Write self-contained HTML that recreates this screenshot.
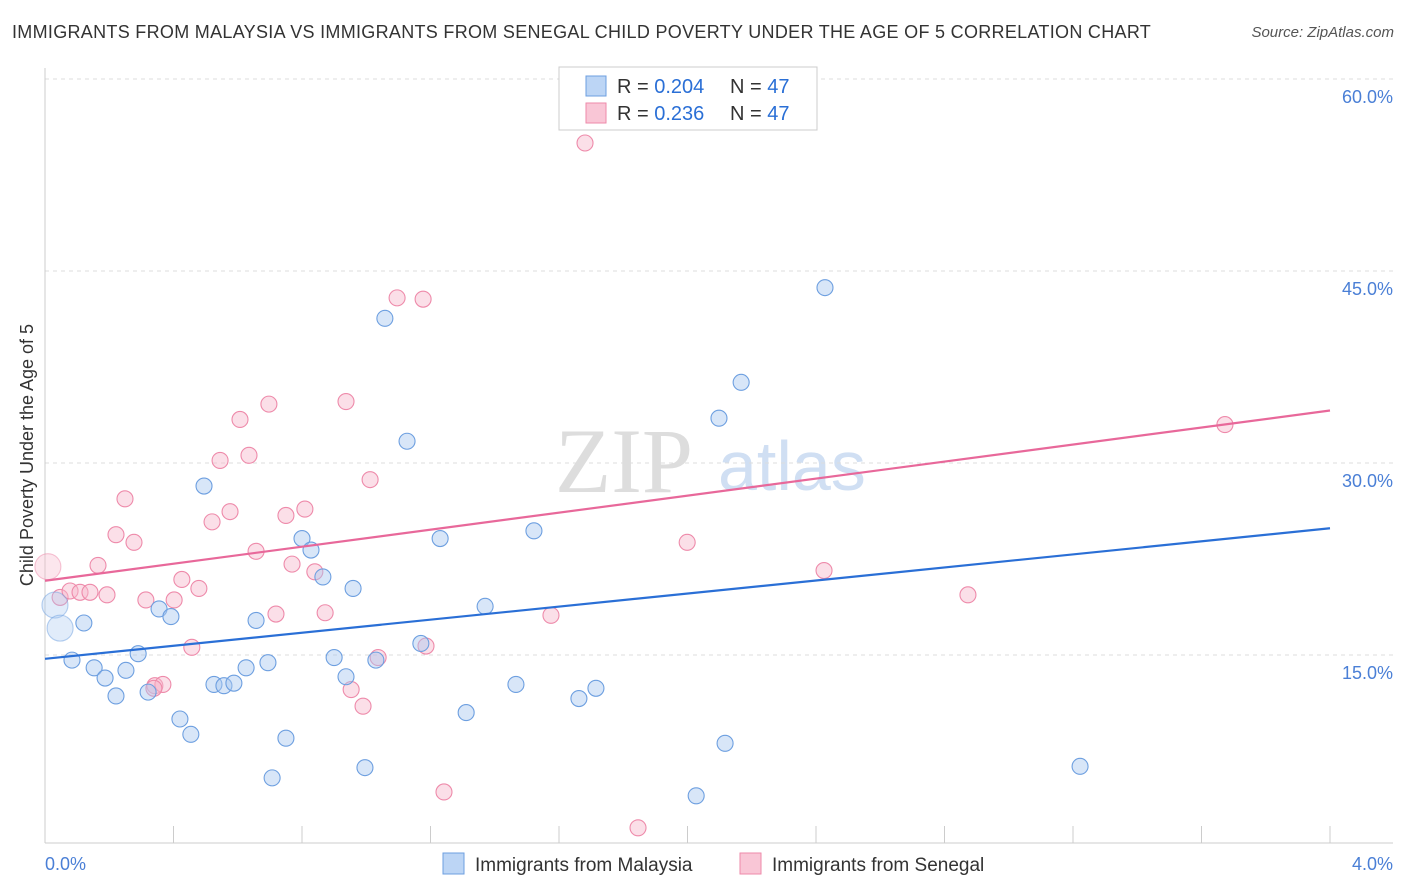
<!DOCTYPE html>
<html><head><meta charset="utf-8">
<style>
body{margin:0;background:#fff;font-family:"Liberation Sans",sans-serif;}
#wrap{position:relative;width:1406px;height:892px;overflow:hidden;}
.title{position:absolute;left:12px;top:22px;font-size:18px;letter-spacing:0.3px;color:#333;}
.src{position:absolute;right:12px;top:24px;font-size:15px;color:#555;font-style:italic;}
</style></head>
<body>
<div id="wrap">
<div class="title">IMMIGRANTS FROM MALAYSIA VS IMMIGRANTS FROM SENEGAL CHILD POVERTY UNDER THE AGE OF 5 CORRELATION CHART</div>
<div class="src">Source: ZipAtlas.com</div>
<svg id="svg" width="1406" height="892" style="position:absolute;left:0;top:0"></svg>
</div>
<script>
const blueX=[.031,.047,.121,.084,.153,.187,.221,.252,.290,.321,.355,.392,.420,.454,.495,.526,.557,.588,.626,.657,.694,.707,.750,.800,.828,.865,.900,.937,.959,.996,1.030,1.058,1.127,1.170,1.230,1.311,1.370,1.466,1.522,1.662,1.715,2.027,2.098,2.117,2.167,2.428,3.222];
const blueY=[18.9,17.1,17.5,14.6,14.0,13.2,11.8,13.8,15.1,12.1,18.6,18.0,10.0,8.8,28.2,12.7,12.6,12.8,14.0,17.7,14.4,5.4,8.5,24.1,23.2,21.1,14.8,13.3,20.2,6.2,14.6,41.3,31.7,15.9,24.1,10.5,18.8,12.7,24.7,11.6,12.4,4.0,33.5,8.1,36.3,43.7,6.3];
const pinkX=[.009,.047,.078,.109,.140,.165,.193,.221,.249,.277,.314,.342,.367,.402,.426,.457,.479,.520,.545,.576,.607,.635,.657,.697,.719,.750,.769,.809,.840,.872,.937,.953,.990,1.012,1.037,1.096,1.177,1.186,1.242,1.575,1.681,1.846,1.999,2.425,2.873,3.673,.339];
const pinkY=[21.9,19.5,20.0,19.9,19.9,22.0,19.7,24.4,27.2,23.8,19.3,12.6,12.7,19.3,20.9,15.6,20.2,25.4,30.2,26.2,33.4,30.6,23.1,34.6,18.2,25.9,22.1,26.4,21.5,18.3,34.8,12.3,11.0,28.7,14.8,42.9,42.8,15.7,4.3,18.1,55.0,1.5,23.8,21.6,19.7,33.0,12.4];
const blueTrend=[14.7,24.9];
const pinkTrend=[20.8,34.1];
const yTicks=[15,30,45,60];
const yTickLabels=["15.0%","30.0%","45.0%","60.0%"];
const xTicks=[0,0.4,0.8,1.2,1.6,2.0,2.4,2.8,3.2,3.6,4.0];

const NS="http://www.w3.org/2000/svg";
const svg=document.getElementById('svg');
const X=v=>45+v*321.25, Y=v=>847-v*12.8;
function mk(t,a,p){const e=document.createElementNS(NS,t);for(const k in a)e.setAttribute(k,a[k]);(p||svg).appendChild(e);return e;}

let w=mk('text',{x:555,y:492,'font-size':92,fill:'#ddd','font-family':'Liberation Serif'});w.textContent='ZIP';


let w2=mk('text',{x:718,y:490,'font-size':70,fill:'#d0dff3','font-family':'Liberation Sans'});w2.textContent='atlas';



yTicks.forEach((t,i)=>{
 const g=mk('line',{x1:45,x2:1393,y1:Y(t),y2:Y(t),stroke:'#ddd','stroke-dasharray':'4,4'});
 
 
 const l=mk('text',{x:1393,y:Y(t)+24,'text-anchor':'end','font-size':18,fill:'#4a7fd6'});l.textContent=yTickLabels[i];
 
 
});
mk('line',{x1:45,x2:1393,y1:79,y2:79,stroke:'#ddd','stroke-dasharray':'4,4'});
const ya=mk('line',{x1:45,x2:45,y1:68,y2:843,stroke:'#ccc'});


const xa=mk('line',{x1:45,x2:1393,y1:843,y2:843,stroke:'#ccc'});


xTicks.forEach(t=>{const k=mk('line',{x1:X(t),x2:X(t),y1:826,y2:843,stroke:'#ccc'});
 
 });
let t0=mk('text',{x:45,y:870,'font-size':18,fill:'#4a7fd6'});t0.textContent='0.0%';


let t1=mk('text',{x:1393,y:870,'font-size':18,fill:'#4a7fd6','text-anchor':'end'});t1.textContent='4.0%';


let yt=mk('text',{x:0,y:0,'font-size':18,fill:'#333','text-anchor':'middle',transform:'translate(33,455) rotate(-90)'});yt.textContent='Child Poverty Under the Age of 5';



function pts(xs,ys,fill,stroke,name,big){
 xs.forEach((x,i)=>{const isBig=i<big;const c=mk('circle',{cx:X(x),cy:Y(ys[i]),r:isBig?13:8,fill:fill,'fill-opacity':isBig?0.35:0.45,stroke:stroke,'stroke-opacity':isBig?0.5:1,'stroke-width':1.1});
 
 });
}
pts(pinkX,pinkY,'#f6b8cb','#ee8aaa','point-senegal',1);
pts(blueX,blueY,'#a9c8f0','#6d9fe0','point-malaysia',2);
const bl=mk('line',{x1:X(0),x2:X(4),y1:Y(blueTrend[0]),y2:Y(blueTrend[1]),stroke:'#2a6fd6','stroke-width':2.2});


const pl=mk('line',{x1:X(0),x2:X(4),y1:Y(pinkTrend[0]),y2:Y(pinkTrend[1]),stroke:'#e8689a','stroke-width':2.2});



const lg=mk('rect',{x:559,y:67,width:258,height:63,fill:'#fff',stroke:'#ccc'});


function lrow(y,fill,stroke,r,n){
 mk('rect',{x:586,y:y-10,width:20,height:20,fill:fill,stroke:stroke});
 const a=mk('text',{x:617,y:y+7,'font-size':20,fill:'#333'});a.innerHTML='R = <tspan fill="#2a6fd6">'+r+'</tspan>';
 
 
 const b=mk('text',{x:730,y:y+7,'font-size':20,fill:'#333'});b.innerHTML='N = <tspan fill="#2a6fd6">'+n+'</tspan>';
 
 
}
lrow(86,'#bcd5f5','#6d9fe0','0.204','47');
lrow(113,'#f9c6d6','#ee8aaa',' 0.236','47');

function bl2(x,fill,stroke,label,name){
 const r=mk('rect',{x:x,y:853,width:21,height:21,fill:fill,stroke:stroke});
 
 
 const t=mk('text',{x:x+32,y:871,'font-size':19,fill:'#333'});t.textContent=label;
 
 
}
bl2(443,'#bcd5f5','#6d9fe0','Immigrants from Malaysia','legend-entry-malaysia');
bl2(740,'#f9c6d6','#ee8aaa','Immigrants from Senegal','legend-entry-senegal');
</script>
</body></html>
